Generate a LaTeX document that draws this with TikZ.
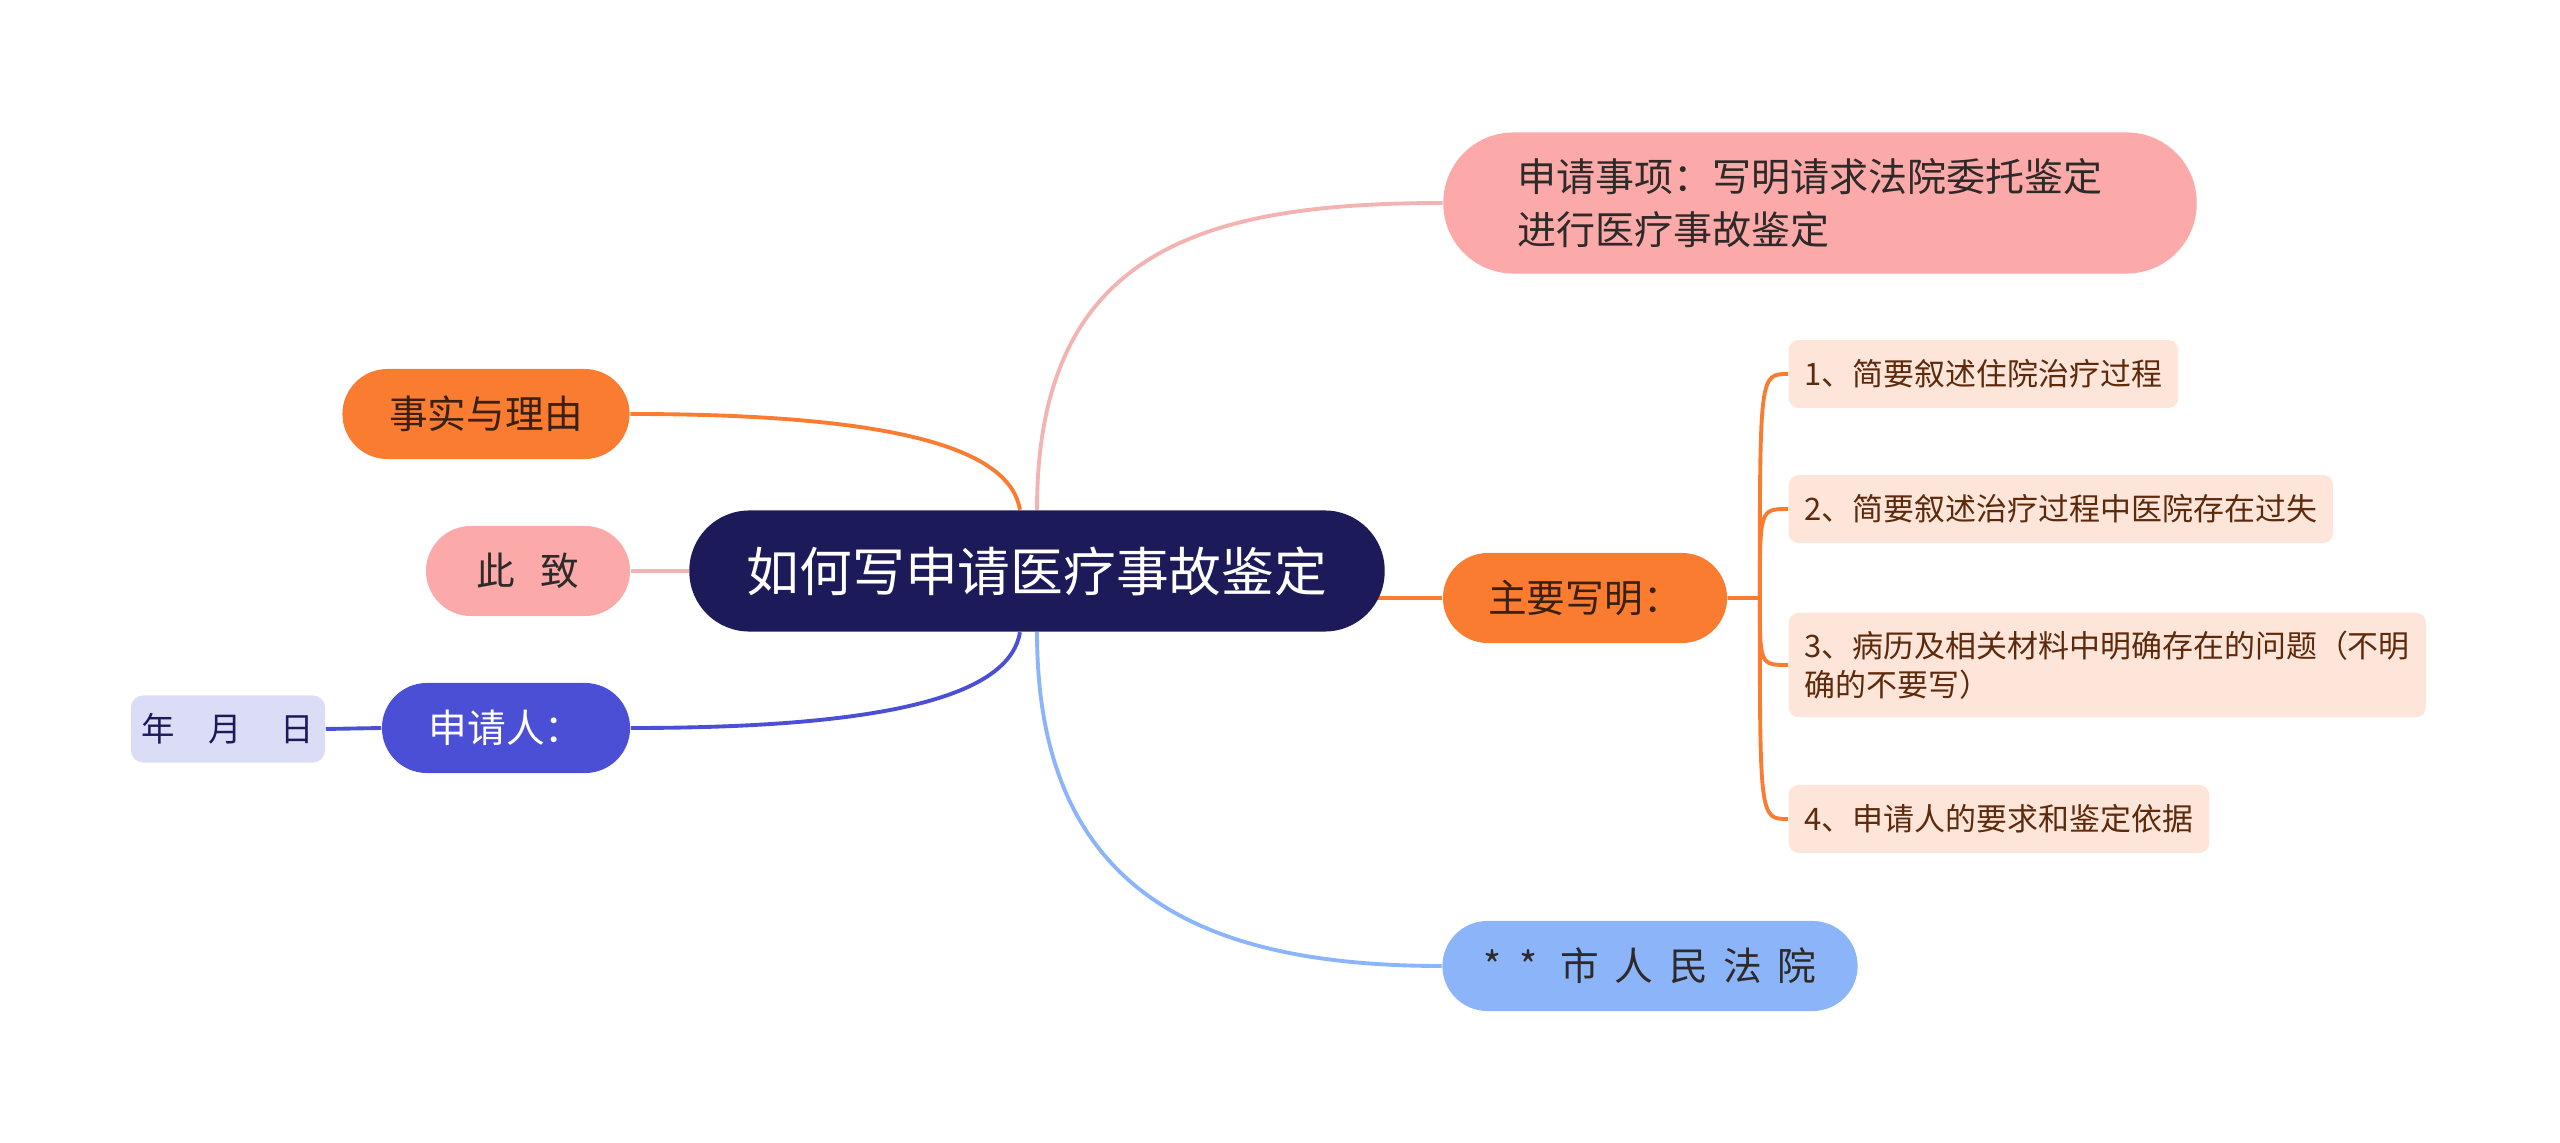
\documentclass[tikz,border=0pt]{standalone}
\usepackage{fontspec}
\setmainfont{Noto Sans CJK SC}
\usetikzlibrary{backgrounds}
\definecolor{navy}{HTML}{1D1A5A}
\definecolor{pinkbox}{HTML}{FBAAA9}
\definecolor{pinkline}{HTML}{F4B3B3}
\definecolor{orangebox}{HTML}{F97C31}
\definecolor{bluebox}{HTML}{4A4FD6}
\definecolor{skybox}{HTML}{8BB5F8}
\definecolor{lavender}{HTML}{DBDDF6}
\definecolor{peach}{HTML}{FDE5D9}
\definecolor{ink}{HTML}{2E2A2A}
\definecolor{brownink}{HTML}{3B200F}
\definecolor{leafink}{HTML}{5E2A0C}
\tikzset{MindMap/.style={% styles of this map
      base/.style = {rectangle, inner sep=0pt, align=center, text=ink,
                     font=\fontsize{11}{15}\selectfont},
      pill/.style = {base, rounded corners=0.45cm, minimum height=0.9cm},
      leaf/.style = {rectangle, rounded corners=0.1cm, fill=peach, text=leafink,
                     inner xsep=0.16cm, inner ysep=0.18cm, minimum height=0.68cm,
                     anchor=west, align=left, font=\fontsize{8.8}{11.1}\selectfont},
      link/.style = {draw=##1, line width=1.1pt}}
        }

\begin{document}
\begin{tikzpicture}[MindMap, x=0.01cm, y=-0.01cm]
\useasboundingbox (0,0) rectangle (2560,1143);
\node[pill, fill=navy, text=white, minimum width=6.95cm, minimum height=1.21cm,
      rounded corners=0.6cm, font=\fontsize{15}{20}\selectfont] (root) at (1037,571) {如何写申请医疗事故鉴定};
\node[pill, fill=pinkbox, text width=6.05cm, inner xsep=0.74cm, minimum height=1.41cm, rounded corners=0.7cm,
      align=left, font=\fontsize{11.1}{15}\selectfont] (request) at (1820,203) {申请事项：写明请求法院委托鉴定\\进行医疗事故鉴定};
\node[pill, fill=orangebox, text=brownink, minimum width=2.87cm] (facts) at (486,414) {事实与理由};
\node[pill, fill=pinkbox, minimum width=2.04cm] (regards) at (528,571) {此\hspace{0.65em}致};
\node[pill, fill=bluebox, text=white, minimum width=2.48cm] (applicant) at (506,728) {申请人：};
\node[base, fill=lavender, text=navy, rounded corners=0.12cm, minimum width=1.94cm, minimum height=0.67cm,
      font=\fontsize{9.5}{12}\selectfont] (date) at (228,729) {年\hspace{1em}月\hspace{1.15em}日};
\node[pill, fill=orangebox, text=brownink, minimum width=2.84cm] (main) at (1585,598) {主要写明：};
\node[pill, fill=skybox, minimum width=4.15cm] (court) at (1650,966) {*\hspace{0.45em}*\hspace{0.6em}市\hspace{0.4em}人\hspace{0.4em}民\hspace{0.4em}法\hspace{0.4em}院};
\foreach \Y/\T [count=\i] in {374/{1、简要叙述住院治疗过程},
                              509/{2、简要叙述治疗过程中医院存在过失},
                              665/{3、病历及相关材料中明确存在的问题（不明\\确的不要写）},
                              819/{4、申请人的要求和鉴定依据}}
  \node[leaf] (item-\i) at (1788,\Y) {\T};
\coordinate (hub) at ([xshift=0.32cm]main.east);

\begin{scope}[on background layer]
 \path[link=pinkline] (root.north) .. controls +(0,-260) and +(-240,0) .. (request.west);
 \path[link=orangebox] (facts.east) .. controls +(270,0) and +(-10,-60) .. ([xshift=-0.17cm]root.north);
 \path[link=pinkline] (regards.east) -- (root);
 \path[link=bluebox] (applicant.east) .. controls +(270,0) and +(-10,60) .. ([xshift=-0.17cm]root.south);
 \path[link=bluebox] (applicant.west) -- (date.east);
 \path[link=skybox] (root.south) .. controls +(0,260) and +(-240,0) .. (court.west);
 \path[link=orangebox] (root.center |- main.west) -- (main.west);
 \foreach \i in {1,...,4}
  \path[link=orangebox] (main.east) -- (hub) .. controls (hub |- item-\i.west) and (hub |- item-\i.west) .. (item-\i.west);
\end{scope}
\end{tikzpicture}
\end{document}
